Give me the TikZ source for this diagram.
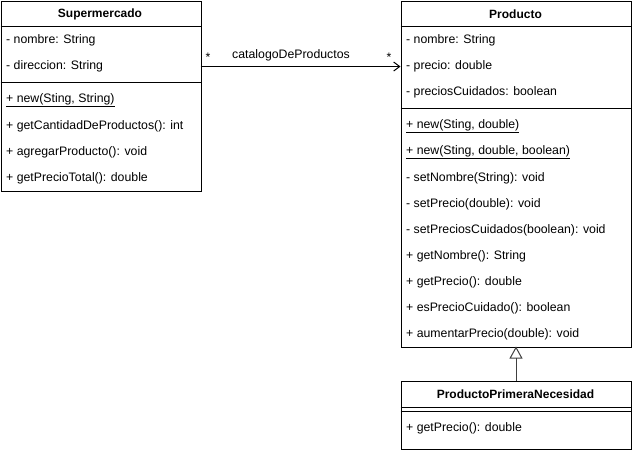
\documentclass[tikz,border=0pt]{standalone}
\usepackage{fontspec}
\setmainfont{Liberation Sans}
\usetikzlibrary{arrows.meta}
\tikzset{
  umlbox/.style={draw=black, line width=1pt, rectangle, inner sep=0pt, anchor=north west},
  sep/.style={draw=black, line width=1pt},
  hdr/.style={font=\fontsize{12}{14}\selectfont\bfseries, inner sep=0pt, anchor=center},
  row/.style={font=\fontsize{12.3}{14}\selectfont, inner sep=0pt, anchor=west},
  lbl/.style={font=\fontsize{12.3}{14}\selectfont, inner sep=0pt, anchor=center},
}
\begin{document}
\begin{tikzpicture}[x=1pt,y=-1pt]
\useasboundingbox (0,0) rectangle (632,451);
% Supermercado
\node[umlbox, minimum width=200pt, minimum height=190pt] (sup) at (0.5,0.5) {};
\draw[sep] (0.5,26) -- (200.5,26);
\draw[sep] (0.5,82) -- (200.5,82);
\node[hdr] (supt) at (100,14) {Supermercado};
\node[row] (s1) at (6,40) {- nombre: String};
\node[row] (s2) at (6,66) {- direccion: String};
\node[row] (s3) at (6,100) {\underline{+ new(Sting, String)}};
\node[row] (s4) at (6,126) {+ getCantidadDeProductos(): int};
\node[row] (s5) at (6,152) {+ agregarProducto(): void};
\node[row] (s6) at (6,178) {+ getPrecioTotal(): double};
% Producto
\node[umlbox, minimum width=230pt, minimum height=346pt] (prod) at (400.5,0.5) {};
\draw[sep] (400.5,26) -- (630.5,26);
\draw[sep] (400.5,108) -- (630.5,108);
\node[hdr] (prodt) at (515.5,14) {Producto};
\node[row] (p1) at (406,40) {- nombre: String};
\node[row] (p2) at (406,66) {- precio: double};
\node[row] (p3) at (406,92) {- preciosCuidados: boolean};
\node[row] (p4) at (406,126) {\underline{+ new(Sting, double)}};
\node[row] (p5) at (406,152) {\underline{+ new(Sting, double, boolean)}};
\node[row] (p6) at (406,178) {- setNombre(String): void};
\node[row] (p7) at (406,204) {- setPrecio(double): void};
\node[row] (p8) at (406,230) {- setPreciosCuidados(boolean): void};
\node[row] (p9) at (406,256) {+ getNombre(): String};
\node[row] (p10) at (406,282) {+ getPrecio(): double};
\node[row] (p11) at (406,308) {+ esPrecioCuidado(): boolean};
\node[row] (p12) at (406,334) {+ aumentarPrecio(double): void};
% ProductoPrimeraNecesidad
\node[umlbox, minimum width=230pt, minimum height=68pt] (ppn) at (400.5,380.5) {};
\draw[sep] (400.5,407) -- (630.5,407);
\draw[sep] (400.5,411) -- (630.5,411);
\node[hdr] (ppnt) at (515.5,394) {ProductoPrimeraNecesidad};
\node[row] (q1) at (406,428) {+ getPrecio(): double};
% association
\coordinate (a1) at (200.5,66.5);
\coordinate (a2) at (400.5,66.5);
\draw[line width=1pt, -{Straight Barb[length=6pt,width=9pt,line width=1pt]}] (a1) -- (a2);
\node[lbl] (m1) at (208,57) {*};
\node[lbl] (m2) at (389,57) {*};
\node[lbl] (rn) at (291,55) {catalogoDeProductos};
% generalization
\coordinate (g1) at (516,380.5);
\coordinate (g2) at (516,346.5);
\draw[line width=1pt, -{Triangle[open,length=12pt,width=13pt,line width=1pt]}, black!75] (g1) -- (g2);
\end{tikzpicture}
\end{document}
